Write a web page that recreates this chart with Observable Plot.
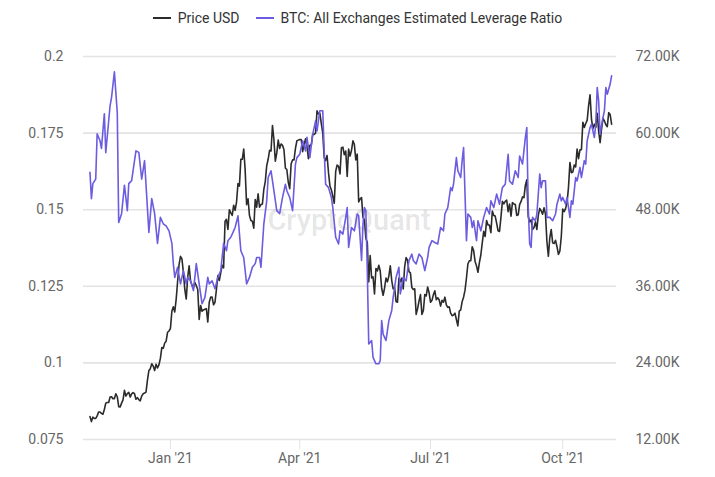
<!DOCTYPE html>
<html>
<head>
<meta charset="utf-8">
<script src="https://cdn.jsdelivr.net/npm/d3@7"></script>
<script src="https://cdn.jsdelivr.net/npm/@observablehq/plot@0.6"></script>
<style>
  html, body { margin: 0; padding: 0; background: #fff; }
  body { width: 715px; height: 477px; overflow: hidden; font-family: Roboto, sans-serif; }
  #legend { height: 35px; display: flex; justify-content: center; align-items: center; gap: 16px; font-size: 14px; color: #333; padding-left: 0; }
  .item { display: flex; align-items: center; gap: 7px; }
  .sw { width: 18px; height: 2px; }
</style>
</head>
<body>
<div id="legend"></div>
<div id="chart"></div>
<script>
// ---- Data ----
const seriesNames = ["Price USD", "BTC: All Exchanges Estimated Leverage Ratio"];
const seriesColors = ["#2b2b2b", "#6b5ce0"];

// Daily BTC price (thousands USD), starting 2020-11-06
const priceStart = "2020-11-06";
const priceNov20 = [15.6, 14.8, 15.5, 15.3, 15.3, 15.7, 16.3, 16.3, 16.1, 15.96, 16.7, 17.7, 17.8, 17.8, 18.65, 18.7, 18.4, 18.4, 19.16, 18.7, 17.15, 17.1, 17.7, 18.2, 19.7];
const priceDec20 = [18.8, 19.2, 19.4, 18.65, 19.15, 19.36, 19.17, 18.3, 18.55, 18.26, 18.06, 18.8, 19.17, 19.27, 19.43, 21.3, 22.8, 23.1, 23.87, 23.5, 22.8, 23.8, 23.2, 23.7, 24.7, 26.4, 26.3, 27.1, 27.4, 28.8, 29.0];
const priceJan21 = [29.4, 32.1, 32.8, 31.97, 33.99, 36.8, 39.4, 40.7, 40.3, 38.2, 35.5, 34.0, 37.4, 39.2, 36.8, 36.2, 35.8, 36.6, 36.1, 35.5, 30.8, 33.0, 32.1, 32.3, 32.4, 32.5, 30.4, 33.5, 34.3, 34.3, 33.1];
const priceFeb21 = [33.5, 35.5, 37.7, 36.9, 38.1, 39.3, 38.9, 46.2, 46.5, 44.9, 48.0, 47.5, 47.1, 48.7, 47.9, 49.2, 52.1, 51.7, 55.9, 55.9, 57.5, 54.2, 48.8, 49.7, 47.1, 46.3, 46.2, 45.1];
const priceMar21 = [49.6, 48.4, 50.5, 48.4, 48.8, 48.9, 51.2, 52.4, 54.9, 55.9, 57.3, 57.2, 61.2, 59.0, 55.6, 56.9, 58.9, 57.6, 58.3, 58.1, 57.4, 54.5, 54.3, 52.3, 51.3, 55.2, 55.8, 55.8, 57.6, 58.8, 58.9];
const priceApr21 = [59.0, 59.0, 57.1, 58.2, 59.1, 58.0, 56.0, 58.1, 58.1, 59.8, 59.8, 60.0, 63.5, 63.0, 63.1, 61.5, 60.0, 56.2, 55.7, 56.5, 53.8, 51.7, 51.1, 50.1, 49.0, 54.0, 55.0, 54.8, 53.6, 57.7];
const priceMay21 = [57.8, 56.6, 57.2, 53.2, 57.5, 56.4, 57.3, 58.8, 58.2, 55.8, 56.7, 49.2, 49.7, 49.9, 46.8, 46.4, 43.5, 42.9, 36.7, 40.8, 37.3, 37.5, 34.8, 38.8, 38.4, 39.3, 38.4, 35.7, 34.6, 35.7, 37.3];
const priceJun21 = [36.7, 37.6, 39.2, 36.9, 35.6, 35.8, 33.6, 33.5, 37.3, 36.7, 37.3, 35.6, 39.1, 40.5, 40.1, 38.3, 38.1, 35.8, 35.5, 35.6, 31.6, 32.5, 33.7, 34.7, 31.6, 32.2, 34.7, 34.5, 35.9, 35.0];
const priceJul21 = [33.5, 33.8, 34.7, 35.3, 33.9, 34.2, 33.9, 32.9, 33.8, 33.5, 34.3, 33.1, 32.7, 32.8, 31.8, 31.4, 31.5, 31.8, 30.8, 29.8, 32.1, 32.3, 33.6, 34.3, 35.4, 37.3, 39.5, 40.0, 40.0, 42.2, 41.6];
const priceAug21 = [39.9, 39.2, 38.2, 39.7, 40.9, 42.8, 44.6, 43.8, 46.3, 45.6, 45.6, 44.4, 47.8, 47.1, 47.0, 45.9, 44.7, 44.6, 46.8, 49.3, 48.9, 49.3, 49.5, 47.7, 48.9, 47.0, 49.1, 48.9, 48.8, 47.1, 47.2];
const priceSep21 = [48.8, 49.3, 50.0, 49.9, 51.8, 52.7, 46.9, 46.1, 46.4, 44.9, 45.2, 46.1, 44.9, 47.1, 48.2, 47.8, 47.3, 48.3, 47.3, 43.0, 40.7, 43.6, 44.9, 42.8, 42.7, 43.2, 42.2, 41.0, 41.5, 43.8];
const priceOct21 = [48.1, 47.7, 48.2, 49.1, 51.5, 55.4, 53.8, 53.9, 55.0, 54.7, 57.5, 56.0, 57.4, 57.4, 61.7, 60.9, 61.5, 62.0, 64.3, 66.0, 62.2, 60.7, 61.4, 60.9, 63.1, 60.3, 58.5, 60.6, 62.3, 61.9, 61.3];
const priceNov21 = [61.0, 63.2, 62.9, 61.4];

// Leverage ratio readings
const levDates = ["2020-11-06","2020-11-07","2020-11-08","2020-11-10","2020-11-11","2020-11-13","2020-11-14","2020-11-16","2020-11-17","2020-11-20","2020-11-21","2020-11-23","2020-11-25","2020-11-26","2020-11-28","2020-11-30","2020-12-02","2020-12-03","2020-12-05","2020-12-08","2020-12-10","2020-12-12","2020-12-14","2020-12-17","2020-12-19","2020-12-21","2020-12-23","2020-12-25","2020-12-27","2020-12-29","2020-12-31","2021-01-02","2021-01-03","2021-01-04","2021-01-06","2021-01-08","2021-01-10","2021-01-12","2021-01-13","2021-01-15","2021-01-17","2021-01-19","2021-01-21","2021-01-23","2021-01-25","2021-01-27","2021-01-28","2021-01-30","2021-02-01","2021-02-03","2021-02-05","2021-02-07","2021-02-09","2021-02-10","2021-02-12","2021-02-14","2021-02-15","2021-02-17","2021-02-19","2021-02-21","2021-02-23","2021-02-25","2021-02-27","2021-03-01","2021-03-02","2021-03-04","2021-03-05","2021-03-07","2021-03-09","2021-03-10","2021-03-12","2021-03-14","2021-03-16","2021-03-18","2021-03-20","2021-03-22","2021-03-23","2021-03-25","2021-03-27","2021-03-29","2021-03-30","2021-04-01","2021-04-03","2021-04-05","2021-04-06","2021-04-08","2021-04-10","2021-04-12","2021-04-13","2021-04-15","2021-04-17","2021-04-18","2021-04-19","2021-04-21","2021-04-23","2021-04-24","2021-04-26","2021-04-28","2021-04-29","2021-05-01","2021-05-03","2021-05-04","2021-05-05","2021-05-07","2021-05-09","2021-05-11","2021-05-12","2021-05-14","2021-05-15","2021-05-16","2021-05-17","2021-05-18","2021-05-19","2021-05-21","2021-05-22","2021-05-24","2021-05-26","2021-05-27","2021-05-28","2021-05-29","2021-05-31","2021-06-02","2021-06-04","2021-06-05","2021-06-07","2021-06-09","2021-06-10","2021-06-12","2021-06-14","2021-06-16","2021-06-18","2021-06-19","2021-06-21","2021-06-23","2021-06-25","2021-06-27","2021-06-29","2021-06-30","2021-07-02","2021-07-04","2021-07-06","2021-07-08","2021-07-10","2021-07-11","2021-07-13","2021-07-15","2021-07-16","2021-07-17","2021-07-19","2021-07-20","2021-07-22","2021-07-23","2021-07-24","2021-07-26","2021-07-27","2021-07-29","2021-07-30","2021-07-31","2021-08-02","2021-08-03","2021-08-05","2021-08-07","2021-08-09","2021-08-11","2021-08-12","2021-08-14","2021-08-16","2021-08-18","2021-08-20","2021-08-22","2021-08-24","2021-08-25","2021-08-27","2021-08-29","2021-08-31","2021-09-01","2021-09-03","2021-09-05","2021-09-06","2021-09-07","2021-09-08","2021-09-09","2021-09-10","2021-09-12","2021-09-13","2021-09-15","2021-09-16","2021-09-17","2021-09-19","2021-09-20","2021-09-22","2021-09-24","2021-09-26","2021-09-27","2021-09-29","2021-09-30","2021-10-01","2021-10-03","2021-10-04","2021-10-06","2021-10-07","2021-10-08","2021-10-10","2021-10-11","2021-10-13","2021-10-14","2021-10-16","2021-10-17","2021-10-18","2021-10-20","2021-10-21","2021-10-23","2021-10-24","2021-10-25","2021-10-26","2021-10-27","2021-10-29","2021-10-30","2021-10-31","2021-11-01","2021-11-03","2021-11-04"];
const levValues = [0.1622,0.1536,0.1585,0.160,0.1748,0.1725,0.170,0.1813,0.1686,0.184,0.1866,0.195,0.1817,0.1458,0.1487,0.158,0.1497,0.1585,0.1595,0.1692,0.1687,0.160,0.166,0.1426,0.1536,0.1487,0.139,0.1475,0.1454,0.1447,0.1431,0.139,0.1324,0.1279,0.1312,0.1258,0.1301,0.1258,0.1279,0.1268,0.1236,0.1324,0.1258,0.1193,0.1214,0.1279,0.1258,0.1268,0.1242,0.1279,0.1301,0.139,0.1366,0.1399,0.141,0.1431,0.1442,0.148,0.1366,0.1344,0.1258,0.1279,0.1312,0.1324,0.1344,0.1344,0.1312,0.1454,0.1529,0.1605,0.1627,0.1562,0.1497,0.1487,0.154,0.1583,0.1562,0.154,0.1497,0.1649,0.167,0.1681,0.1725,0.1692,0.1736,0.167,0.1746,0.179,0.1757,0.1823,0.1823,0.1692,0.1583,0.1572,0.154,0.1507,0.141,0.1388,0.1431,0.142,0.1475,0.1507,0.1377,0.1442,0.1431,0.1486,0.148,0.1334,0.1453,0.1507,0.1497,0.1301,0.1062,0.1073,0.1018,0.0997,0.0997,0.1008,0.1138,0.1094,0.1073,0.1138,0.1171,0.1214,0.1279,0.1312,0.1225,0.1279,0.1268,0.1334,0.1355,0.1334,0.1323,0.1355,0.1344,0.1301,0.1344,0.1377,0.1399,0.1393,0.1388,0.1442,0.1431,0.1486,0.1507,0.1572,0.1562,0.1583,0.167,0.1627,0.1605,0.166,0.1703,0.1399,0.1486,0.1475,0.1442,0.1464,0.1399,0.1464,0.1431,0.1475,0.1507,0.1486,0.1529,0.1507,0.1551,0.1518,0.1572,0.1583,0.1681,0.1594,0.1583,0.1627,0.1605,0.1675,0.1649,0.1736,0.1768,0.1507,0.1388,0.1377,0.1475,0.1464,0.1486,0.1616,0.1572,0.1594,0.1594,0.1475,0.1475,0.1464,0.1486,0.1518,0.1551,0.1529,0.154,0.1518,0.154,0.1475,0.1529,0.1518,0.1605,0.1594,0.1638,0.1605,0.166,0.1649,0.1725,0.1768,0.1779,0.1736,0.1779,0.1899,0.1855,0.1746,0.1801,0.1823,0.1899,0.1877,0.1910,0.1937];

const leftTicks = [0.075, 0.1, 0.125, 0.15, 0.175, 0.2];
const priceTicksK = [12, 24, 36, 48, 60, 72];
const xTickDates = ["2021-01-01", "2021-04-01", "2021-07-01", "2021-10-01"];
const watermark = "CryptoQuant";

// ---- Build ----
const priceAll = [].concat(priceNov20, priceDec20, priceJan21, priceFeb21, priceMar21, priceApr21, priceMay21, priceJun21, priceJul21, priceAug21, priceSep21, priceOct21, priceNov21);
const start = new Date(priceStart);
const priceData = priceAll.map((p, i) => ({date: d3.utcDay.offset(start, i), price: p}));
const levData = levDates.map((d, i) => ({date: new Date(d), lev: levValues[i]}));

// price (K) -> leverage axis mapping for the dual axis
const p2l = d3.scaleLinear([priceTicksK[0], priceTicksK[priceTicksK.length - 1]], [leftTicks[0], leftTicks[leftTicks.length - 1]]);

// legend
const legend = document.getElementById("legend");
seriesNames.forEach((n, i) => {
  const it = document.createElement("div"); it.className = "item";
  const sw = document.createElement("div"); sw.className = "sw"; sw.style.background = seriesColors[i];
  const tx = document.createElement("span"); tx.textContent = n;
  it.appendChild(sw); it.appendChild(tx); legend.appendChild(it);
});

const chart = Plot.plot({
  width: 715,
  height: 442,
  marginTop: 21,
  marginBottom: 38,
  marginLeft: 83,
  marginRight: 99,
  style: {fontFamily: "Roboto, sans-serif", fontSize: "14px", background: "#fff"},
  x: {type: "utc", domain: [new Date("2020-11-01T12:00Z"), new Date("2021-11-07T10:00Z")]},
  y: {domain: [leftTicks[0], leftTicks[leftTicks.length - 1]]},
  marks: [
    Plot.gridY(leftTicks, {stroke: "#e3e3e3", strokeOpacity: 1, strokeWidth: 1.6}),
    Plot.text([watermark], {frameAnchor: "middle", dx: -1, dy: -27, fontSize: 29, fontWeight: 500, fill: "#000", fillOpacity: 0.11}),
    Plot.axisY(leftTicks, {anchor: "left", label: null, tickSize: 0, tickPadding: 20, fill: "#666", fontSize: 14, tickFormat: d => String(d)}),
    Plot.axisY(priceTicksK.map(p2l), {anchor: "right", label: null, tickSize: 0, tickPadding: 19, fill: "#666", fontSize: 14, tickFormat: v => p2l.invert(v).toFixed(2) + "K"}),
    Plot.axisX(xTickDates.map(d => new Date(d)), {label: null, tickSize: 10, tickPadding: 4, stroke: "#e3e3e3", fill: "#666", fontSize: 14, tickFormat: d3.utcFormat("%b '%y")}),
    Plot.lineY(priceData, {x: "date", y: d => p2l(d.price), stroke: seriesColors[0], strokeWidth: 1.6}),
    Plot.lineY(levData, {x: "date", y: "lev", stroke: seriesColors[1], strokeWidth: 1.6})
  ]
});
document.getElementById("chart").appendChild(chart);
</script>
</body>
</html>
